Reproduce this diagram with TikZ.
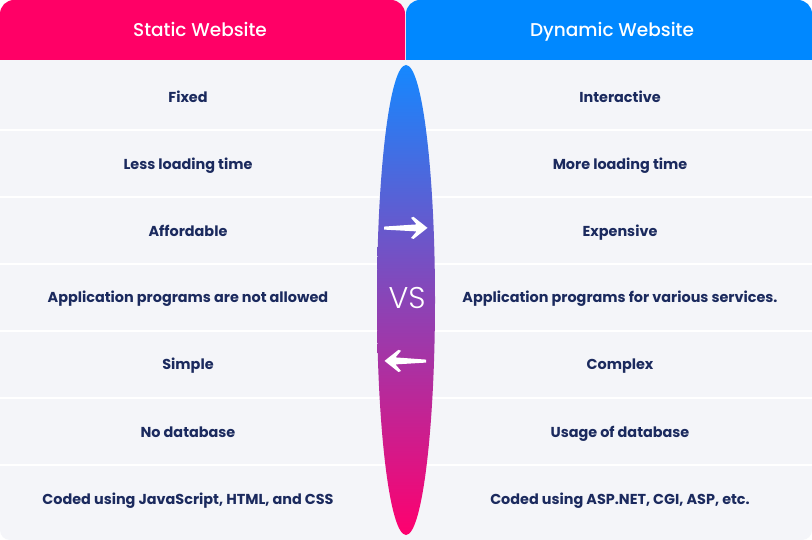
\documentclass[tikz,border=0pt]{standalone}
\usepackage{fontspec}
\setmainfont{Poppins}[BoldFont={* Bold}]
\newfontfamily\vsfont{Poppins Light}
\newfontfamily\hdfont{Poppins Medium}
\definecolor{pinkc}{HTML}{FF0066}
\definecolor{bluec}{HTML}{0088FF}
\definecolor{rowc}{HTML}{F4F5F9}
\definecolor{navy}{HTML}{1B2A5E}
\definecolor{gtop}{HTML}{1588FF}
\definecolor{gmid}{HTML}{7A3DB9}
\definecolor{gbot}{HTML}{FF006E}
\begin{document}
\begin{tikzpicture}[x=1pt,y=-1pt,
  cell/.style={font=\bfseries\fontsize{14.4}{16}\selectfont, text=navy, inner sep=0pt, anchor=base},
  head/.style={font=\hdfont\fontsize{18.5}{20}\selectfont, text=white, inner sep=0pt, anchor=base},
  sep/.style={white, line width=2pt},
  arr/.style={fill=white}]
\useasboundingbox (0,0) rectangle (812,540);
\fill[white] (0,0) rectangle (812,540);
\fill[rowc, rounded corners=10] (0,20) rectangle (812,540);
\fill[rowc] (385,0) rectangle (425,20);
% headers
\fill[pinkc] (0,60) [rounded corners=14] -- (0,0) -- (405,0) [sharp corners] -- (405,60) -- cycle;
\fill[bluec] (406,60) [rounded corners=14] -- (406,0) -- (812,0) [sharp corners] -- (812,60) -- cycle;
\node[head] (hl) at (200,37) {Static Website};
\node[head] (hr) at (612,37) {Dynamic Website};
% separators
\foreach \y in {130,197,264,331,398,465} \draw[sep] (0,\y) -- (812,\y);
% ellipse
\shade[top color=gtop, middle color=gmid, bottom color=gbot] (406,300) ellipse (29 and 235);
\node[font=\vsfont\fontsize{30}{32}\selectfont, text=white, inner sep=0pt] (vs) at (407,298) {VS};
% arrows
\fill[arr] (384,226.6) -- (416.5,224.4) -- (411,217.8) -- (413.5,216.8) -- (427.5,227.9) -- (413.5,239) -- (411,238) -- (416.5,231.4) -- (384,229.6) -- cycle;
\fill[arr] (426,359.6) -- (395.5,357.4) -- (401,350.8) -- (398.5,349.8) -- (384.5,360.9) -- (398.5,372) -- (401,371) -- (395.5,364.4) -- (426,362.6) -- cycle;
% cells
\node[cell] (l1) at (188,103) {Fixed};
\node[cell] (l2) at (188,169.5) {Less loading time};
\node[cell] (l3) at (188,236.5) {Affordable};
\node[cell] (l4) at (188,303) {Application programs are not allowed};
\node[cell] (l5) at (188,370) {Simple};
\node[cell] (l6) at (188,437) {No database};
\node[cell] (l7) at (188,504) {Coded using JavaScript, HTML, and CSS};
\node[cell] (r1) at (620,103) {Interactive};
\node[cell] (r2) at (620,169.5) {More loading time};
\node[cell] (r3) at (620,236.5) {Expensive};
\node[cell] (r4) at (620,303) {Application programs for various services.};
\node[cell] (r5) at (620,370) {Complex};
\node[cell] (r6) at (620,437) {Usage of database};
\node[cell] (r7) at (620,504) {Coded using ASP.NET, CGI, ASP, etc.};
\end{tikzpicture}
\end{document}
